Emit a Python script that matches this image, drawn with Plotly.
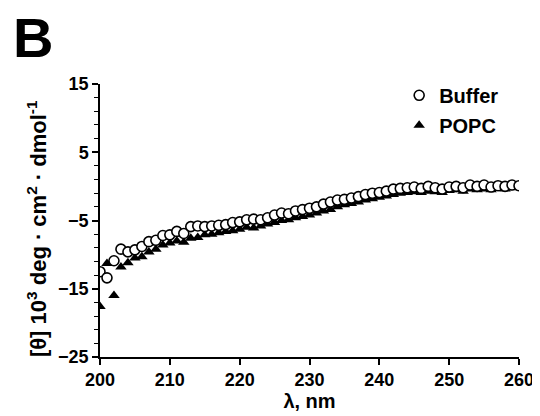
import plotly.graph_objects as go

wavelength = list(range(200, 261))

buffer_vals = [-12.5, -13.4, -10.9, -9.2, -9.6, -9.3, -8.8, -8.1, -7.9, -7.2,
               -7.1, -6.6, -6.9, -5.9, -5.8, -5.9, -5.8, -5.7, -5.6, -5.3,
               -5.2, -4.9, -4.8, -4.9, -4.6, -4.2, -3.9, -4.0, -3.6, -3.4,
               -3.2, -3.0, -2.6, -2.3, -2.0, -1.9, -1.7, -1.5, -1.2, -1.0,
               -0.9, -0.7, -0.4, -0.3, -0.2, -0.1, -0.3, 0.0, -0.2, -0.4,
               -0.1, 0.0, -0.2, 0.2, 0.0, 0.2, -0.1, 0.1, 0.0, 0.2, 0.1]

popc_vals = [-17.6, -11.3, -16.0, -11.8, -11.2, -10.5, -10.3, -9.6, -9.2, -8.6,
             -8.3, -8.0, -8.2, -7.6, -7.5, -7.1, -7.0, -6.8, -6.6, -6.5,
             -6.3, -6.0, -6.1, -5.8, -5.5, -5.3, -5.0, -4.9, -4.6, -4.4,
             -4.2, -3.9, -3.6, -3.4, -3.0, -2.7, -2.5, -2.3, -2.0, -1.8,
             -1.6, -1.4, -1.2, -1.0, -0.9, -0.8, -0.9, -0.7, -0.8, -0.9,
             -0.6, -0.5, -0.7, -0.4, -0.5, -0.4, -0.5, -0.3, -0.4, -0.2, -0.1]

x_ticks = [200, 210, 220, 230, 240, 250, 260]
y_ticks = [-25, -15, -5, 5, 15]

FONT = "Liberation Sans, Arial, sans-serif"

fig = go.Figure()
fig.add_trace(go.Scatter(
    x=wavelength, y=popc_vals, mode="markers", name="POPC",
    legendgroup="b", legendrank=2,
    marker=dict(symbol="triangle-up", size=10, color="black",
                line=dict(width=0)),
))
fig.add_trace(go.Scatter(
    x=wavelength, y=buffer_vals, mode="markers", name="Buffer",
    legendgroup="a", legendrank=1,
    marker=dict(symbol="circle", size=10, color="white",
                line=dict(width=1.6, color="black")),
))

fig.update_layout(
    width=540, height=416,
    margin=dict(l=92, r=29, t=76, b=67),
    paper_bgcolor="white", plot_bgcolor="white",
    font=dict(family=FONT, color="black", size=18),
    showlegend=True,
    legend=dict(x=0.714, y=1.03, xanchor="left", yanchor="top",
                traceorder="grouped",
                font=dict(size=20, family=FONT, weight="bold"),
                itemsizing="trace", bgcolor="rgba(0,0,0,0)",
                tracegroupgap=1),
    xaxis=dict(
        range=[200, 260], tickmode="array", tickvals=x_ticks,
        ticks="outside", ticklen=6, tickwidth=1.5, tickcolor="black",
        showline=True, linecolor="black", linewidth=1.5,
        showgrid=False, zeroline=False,
        tickfont=dict(size=18, family=FONT, weight="bold"),
        title=dict(text="λ, nm", font=dict(size=20, family=FONT, weight="bold"),
                   standoff=2),
    ),
    yaxis=dict(
        range=[-25, 15], tickmode="array", tickvals=y_ticks,
        ticks="outside", ticklen=6, tickwidth=1.5, tickcolor="black",
        minor=dict(dtick=2, tick0=-25, ticks="outside", ticklen=4,
                   tickwidth=1.2, tickcolor="black", showgrid=False),
        showline=True, linecolor="black", linewidth=1.5,
        showgrid=False, zeroline=False,
        tickfont=dict(size=18, family=FONT, weight="bold"),
    ),
    annotations=[
        dict(text="<b>B</b>", xref="paper", yref="paper",
             x=-0.213, y=1.17, xanchor="left", yanchor="middle",
             showarrow=False,
             font=dict(size=56, family=FONT, color="black")),
        dict(text="<b>[θ] 10<sup>3</sup> deg · cm<sup>2</sup> · dmol<sup>-1</sup></b>",
             xref="paper", yref="paper", x=-0.150, y=0.469,
             xanchor="center", yanchor="middle", textangle=-90,
             showarrow=False,
             font=dict(size=22, family=FONT, color="black")),
    ],
)

fig.write_html("out.html")
